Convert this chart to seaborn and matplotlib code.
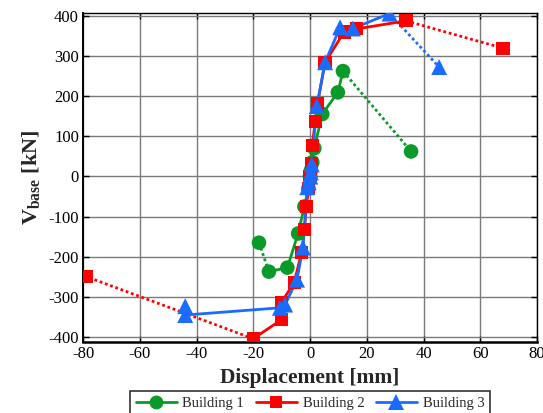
import matplotlib
matplotlib.use("Agg")
import matplotlib.pyplot as plt
import seaborn as sns
import pandas as pd

# ---- data (displacement [mm], base shear [kN]) ----
# Building 1
b1_pos_disp = [0.0, 0.3, 0.8, 1.5, 4.3, 9.8, 11.6, 35.6]
b1_pos_force = [0, 15, 35, 70, 155, 209, 262, 62]
b1_neg_disp = [0.0, -0.6, -2.0, -4.2, -8.0, -14.5, -18.0]
b1_neg_force = [0, -30, -75, -142, -227, -237, -165]
# Building 2
b2_pos_disp = [0.0, 0.5, 0.8, 1.8, 2.6, 5.3, 12.0, 16.5, 33.8, 68.0]
b2_pos_force = [0, 32, 77, 137, 180, 284, 359, 367, 387, 319]
b2_neg_disp = [0.0, -0.5, -1.3, -2.0, -3.0, -5.6, -10.2, -10.2, -20.0, -79.0]
b2_neg_force = [0, -30, -75, -132, -190, -264, -315, -357, -404, -249]
# Building 3
b3_pos_disp = [0.0, 0.3, 0.6, 2.4, 5.3, 10.6, 15.1, 28.0, 45.5]
b3_pos_force = [0, 10, 30, 175, 284, 371, 368, 405, 272]
b3_neg_disp = [0.0, -0.5, -1.0, -2.5, -4.6, -8.8, -10.6, -44.0, -44.0]
b3_neg_force = [0, -15, -27, -177, -257, -319, -327, -345, -323]

names = ["Building 1", "Building 2", "Building 3"]
x_ticks = [-80, -60, -40, -20, 0, 20, 40, 60, 80]
y_ticks = [-400, -300, -200, -100, 0, 100, 200, 300, 400]

colors = ["#0a9a2a", "#ff0000", "#1a6cff"]
markers = ["o", "s", "^"]
msizes = [10.5, 9.5, 11.5]

sns.set_style("ticks")
plt.rcParams["font.family"] = ["Liberation Serif", "DejaVu Serif"]
plt.rcParams["mathtext.fontset"] = "custom"
plt.rcParams["mathtext.rm"] = "Liberation Serif"
plt.rcParams["mathtext.bf"] = "Liberation Serif:bold"

fig = plt.figure(figsize=(5.43, 4.13), dpi=100)
ax = fig.add_axes([0.153, 0.172, 0.836, 0.797])

series = [
    [(b1_pos_disp, b1_pos_force), (b1_neg_disp, b1_neg_force)],
    [(b2_pos_disp, b2_pos_force), (b2_neg_disp, b2_neg_force)],
    [(b3_pos_disp, b3_pos_force), (b3_neg_disp, b3_neg_force)],
]

handles = []
for i, branches in enumerate(series):
    for j, (d, f) in enumerate(branches):
        df = pd.DataFrame({"d": d, "f": f})
        solid = df.iloc[:-1]
        dotted = df.iloc[-2:]
        sns.lineplot(data=dotted, x="d", y="f", sort=False, estimator=None,
                     color=colors[i], lw=2, linestyle=(0, (1, 1)), ax=ax,
                     zorder=2)
        sns.lineplot(data=solid, x="d", y="f", sort=False, estimator=None,
                     color=colors[i], lw=2, ax=ax, zorder=3)
        sns.scatterplot(data=df, x="d", y="f", marker=markers[i],
                        s=msizes[i] ** 2, color=colors[i], edgecolor="none",
                        linewidth=0, ax=ax, zorder=4)
    h, = ax.plot([], [], color=colors[i], lw=2, marker=markers[i],
                 markersize=msizes[i] * 0.95, markeredgewidth=0)
    handles.append(h)

ax.set_xlim(-80, 80)
ax.set_ylim(-412, 407)
ax.set_xticks(x_ticks)
ax.set_yticks(y_ticks)
ax.set_xticklabels([str(v) for v in x_ticks])
ax.set_yticklabels([str(v) for v in y_ticks])
ax.grid(True, color="#7a7a7a", lw=1.0)
ax.set_axisbelow(True)
ax.tick_params(direction="in", top=True, right=True, labelsize=12,
               length=4, width=1, pad=3, colors="black")
for sp in ax.spines.values():
    sp.set_color("black")
    sp.set_linewidth(1.0)
    sp.set_visible(True)
ax.spines["bottom"].set_linewidth(1.8)
ax.spines["left"].set_linewidth(1.4)

ax.set_xlabel("Displacement [mm]", fontsize=15.5, fontweight="bold", labelpad=4)
ax.set_ylabel(r"$\mathbf{V}_{\mathbf{base}}$ [kN]", fontsize=16,
              fontweight="bold", labelpad=4)

leg = ax.legend(handles, names, loc="upper center",
                bbox_to_anchor=(0.5, -0.15), ncol=3, fontsize=10.5,
                frameon=True, fancybox=False, edgecolor="black",
                borderpad=0.4, handlelength=2.8, columnspacing=0.8,
                handletextpad=0.4, borderaxespad=0)
leg.get_frame().set_linewidth(1.2)

fig.savefig("out.png", dpi=100)
